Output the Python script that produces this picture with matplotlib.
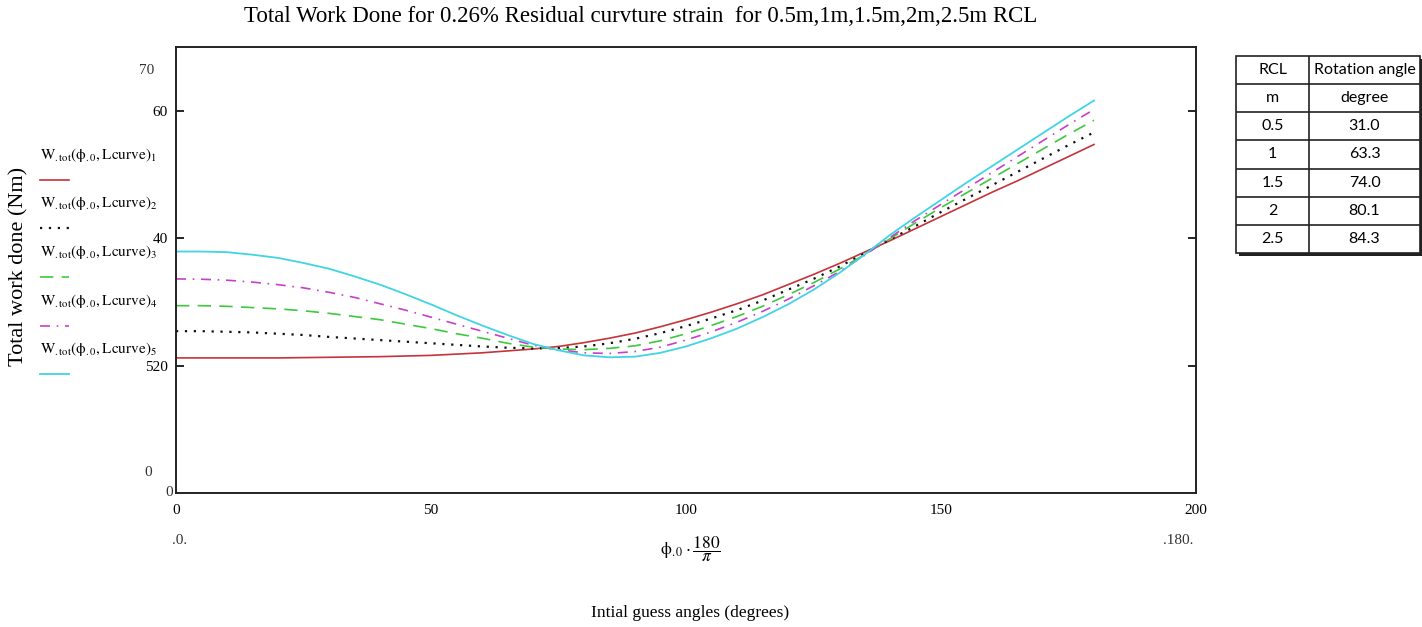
import matplotlib

matplotlib.use("Agg")

from matplotlib import pyplot as plt
from matplotlib.lines import Line2D
from matplotlib.patches import Rectangle

# initial guess angle (degrees) and total work done per residual curvature length
angles = [0, 5, 10, 15, 20, 25, 30, 35, 40, 45, 50, 55, 60, 65, 70, 75, 80, 85, 90,
          95, 100, 105, 110, 115, 120, 125, 130, 135, 140, 145, 150, 155, 160, 165, 170, 175, 180]
w_rcl_05 = [21.2, 21.2, 21.2, 21.2, 21.2, 21.25, 21.3, 21.35, 21.4, 21.5, 21.6, 21.8, 22.0, 22.3, 22.6, 23.0, 23.6, 24.3, 25.1,
            26.1, 27.2, 28.4, 29.7, 31.1, 32.7, 34.3, 36.0, 37.8, 39.6, 41.5, 43.4, 45.3, 47.2, 49.0, 50.9, 52.8, 54.7]
w_rcl_1 = [25.4, 25.4, 25.3, 25.2, 25.0, 24.8, 24.5, 24.25, 24.0, 23.75, 23.5, 23.25, 23.0, 22.8, 22.7, 22.75, 23.0, 23.5, 24.2,
           25.1, 26.2, 27.4, 28.7, 30.2, 31.9, 33.6, 35.5, 37.6, 39.8, 41.9, 44.1, 46.2, 48.3, 50.4, 52.5, 54.6, 56.6]
w_rcl_15 = [29.4, 29.4, 29.3, 29.1, 28.9, 28.6, 28.2, 27.7, 27.2, 26.5, 25.8, 25.0, 24.3, 23.5, 22.9, 22.6, 22.5, 22.7, 23.1,
            23.9, 25.0, 26.3, 27.7, 29.3, 31.1, 33.0, 35.1, 37.4, 39.9, 42.4, 44.8, 47.1, 49.4, 51.7, 54.0, 56.3, 58.5]
w_rcl_2 = [33.6, 33.55, 33.4, 33.1, 32.7, 32.2, 31.5, 30.7, 29.7, 28.7, 27.6, 26.5, 25.4, 24.3, 23.2, 22.5, 22.0, 21.9, 22.2,
           22.9, 24.0, 25.3, 26.8, 28.5, 30.4, 32.5, 34.7, 37.3, 40.1, 42.8, 45.3, 47.8, 50.3, 52.8, 55.3, 57.8, 60.2]
w_rcl_25 = [37.9, 37.9, 37.8, 37.4, 36.9, 36.1, 35.2, 34.0, 32.7, 31.2, 29.6, 27.9, 26.3, 24.8, 23.4, 22.4, 21.6, 21.3, 21.4,
            22.0, 23.0, 24.3, 25.8, 27.6, 29.6, 31.9, 34.5, 37.4, 40.5, 43.3, 46.0, 48.7, 51.3, 53.9, 56.5, 59.1, 61.6]

y_ticks = [0, 20, 40, 60]
y_tick_labels = ["0", "520", "40", "60"]
x_ticks = [0, 50, 100, 150, 200]

table_rcl = ["0.5", "1", "1.5", "2", "2.5"]
table_angle = ["31.0", "63.3", "74.0", "80.1", "84.3"]

W, H = 1422, 627
plt.rcParams["font.family"] = "Liberation Serif"
plt.rcParams["mathtext.fontset"] = "stix"


def fx(px):
    return px / W


def fy(py):
    return 1 - py / H


series = [
    (w_rcl_05, "#c4343a", "-", 1.2),
    (w_rcl_1, "#111111", (0, (1, 3)), 1.6),
    (w_rcl_15, "#3ec83e", (0, (8, 5)), 1.2),
    (w_rcl_2, "#c840c8", (0, (6, 4, 1, 4)), 1.2),
    (w_rcl_25, "#40d4e4", "-", 1.3),
]

fig = plt.figure(figsize=(W / 100, H / 100), dpi=100)
ax = fig.add_axes([fx(176), fy(493), fx(1196) - fx(176), fy(47) - fy(493)])

for values, color, style, lw in series:
    ax.plot(angles, values, color=color, linestyle=style, linewidth=lw)

ax.set_xlim(0, 200)
ax.set_ylim(0, 70)
ax.set_xticks(x_ticks, [str(t) for t in x_ticks])
ax.set_yticks(y_ticks[1:], y_tick_labels[1:])
ax.tick_params(axis="y", direction="in", length=6, width=1.2, right=True, labelsize=11, pad=6)
ax.tick_params(axis="x", length=0, labelsize=11, pad=8)
for spine in ax.spines.values():
    spine.set_linewidth(1.4)
    spine.set_color("#222222")

# axis limit labels Mathcad prints outside the frame
fig.text(fx(147), fy(71), "70", fontsize=11, ha="center", va="center", color="#333333")
fig.text(fx(148), fy(473), "0", fontsize=11, ha="center", va="center", color="#333333")
fig.text(fx(169), fy(493), y_tick_labels[0], fontsize=11, ha="center", va="center", color="#333333")
fig.text(fx(180), fy(541), ".0.", fontsize=11, ha="center", va="center", color="#333333")
fig.text(fx(1178), fy(540), ".180.", fontsize=11, ha="center", va="center", color="#333333")

fig.text(fx(641), fy(16), "Total Work Done for 0.26% Residual curvture strain  for 0.5m,1m,1.5m,2m,2.5m RCL",
         fontsize=16.5, ha="center", va="center")
fig.text(fx(19), fy(266), "Total work done (Nm)", fontsize=16, rotation=90, ha="center", va="center")
fig.text(fx(690), fy(549), r"$\mathrm{ϕ}_{.0}\cdot\dfrac{180}{\pi}$", fontsize=12.5, ha="center", va="center")
fig.text(fx(690), fy(613), "Intial guess angles (degrees)", fontsize=12.5, ha="center", va="center")

# legend drawn Mathcad style on the left
for i, (values, color, style, lw) in enumerate(series):
    ty = 155 + i * 48.5
    fig.text(fx(40), fy(ty), r"$\mathrm{W}_{.\mathrm{tot}}\left(\mathrm{ϕ}_{.0},\mathrm{Lcurve}\right)_{%d}$" % (i + 1),
             fontsize=11, ha="left", va="center")
    ly = fy(ty + 25)
    fig.add_artist(Line2D([fx(40), fx(69)], [ly, ly], color=color, linestyle=style, linewidth=lw))

# rotation angle table
tab = fig.add_axes([fx(1236), fy(253), fx(1420) - fx(1236), fy(56) - fy(253)])
tab.set_xlim(0, 184)
tab.set_ylim(7, 0)
tab.axis("off")
tab.add_patch(Rectangle((2.5, 0.12), 184, 7, facecolor="#222222", edgecolor="none", clip_on=False))
tab.add_patch(Rectangle((0, 0), 184, 7, facecolor="white", edgecolor="#222222", linewidth=1.2, clip_on=False))
for r in range(1, 7):
    tab.plot([0, 184], [r, r], color="#222222", linewidth=1.2)
tab.plot([73, 73], [0, 7], color="#222222", linewidth=1.2)
rows = [("RCL", "Rotation angle"), ("m", "degree")] + list(zip(table_rcl, table_angle))
for r, (c1, c2) in enumerate(rows):
    tab.text(36.5, r + 0.5, c1, fontsize=11.5, family="Lato", ha="center", va="center")
    tab.text(128.5, r + 0.5, c2, fontsize=11.5, family="Lato", ha="center", va="center")

fig.savefig("out.png", dpi=100)
